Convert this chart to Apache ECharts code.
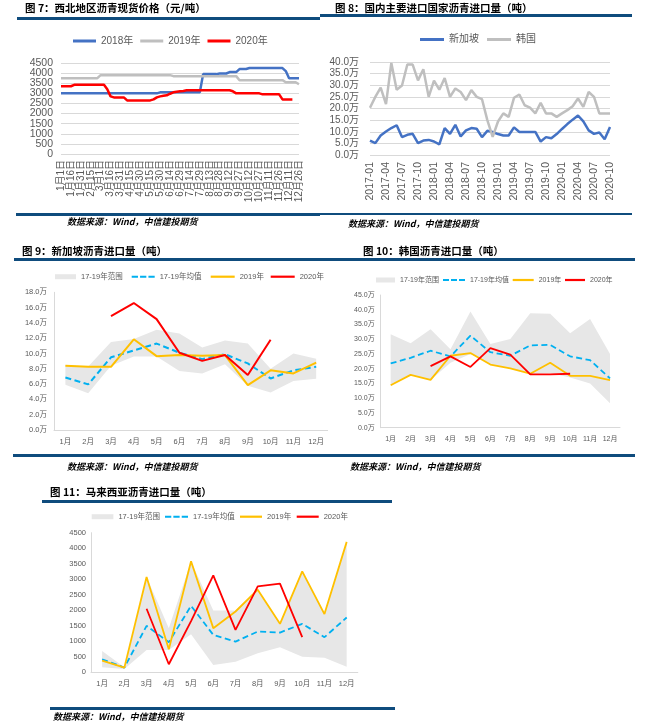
<!DOCTYPE html>
<html><head><meta charset="utf-8">
<script src="https://cdn.jsdelivr.net/npm/echarts@6/dist/echarts.min.js"></script>
<style>
html,body{margin:0;padding:0;background:#fff;}
#wrap{position:relative;width:651px;height:727px;overflow:hidden;font-family:"Noto Sans CJK SC",sans-serif;background:#fff;}
.c{position:absolute;left:0;top:0;width:651px;height:727px;}
.t{position:absolute;font-weight:bold;font-size:10.5px;color:#000;white-space:nowrap;line-height:12px;z-index:5;}
.l{position:absolute;background:#0F4C7D;z-index:5;}
.s{position:absolute;font-weight:bold;font-style:italic;font-size:9px;color:#000;white-space:nowrap;line-height:11px;z-index:5;}
</style></head>
<body>
<div id="wrap">
  <div class="c" id="c7"></div>
  <div class="c" id="c8"></div>
  <div class="c" id="c9"></div>
  <div class="c" id="c10"></div>
  <div class="c" id="c11"></div>

  <div class="t" style="left:25px;top:2px;">图 7：西北地区沥青现货价格（元/吨）</div>
  <div class="l" style="left:17px;top:17px;width:303px;height:3px;"></div>
  <div class="l" style="left:16px;top:213px;width:304px;height:2.5px;"></div>
  <div class="s" style="left:67px;top:216px;">数据来源：Wind，中信建投期货</div>

  <div class="t" style="left:335px;top:1.5px;">图 8：国内主要进口国家沥青进口量（吨）</div>
  <div class="l" style="left:320px;top:14px;width:312px;height:3px;"></div>
  <div class="l" style="left:320px;top:212.5px;width:312px;height:2.5px;"></div>
  <div class="s" style="left:348px;top:217.5px;">数据来源：Wind，中信建投期货</div>

  <div class="t" style="left:22px;top:245px;">图 9：新加坡沥青进口量（吨）</div>
  <div class="l" style="left:14px;top:258px;width:316px;height:3px;"></div>
  <div class="l" style="left:13px;top:454px;width:317px;height:3px;"></div>
  <div class="s" style="left:67px;top:460.5px;">数据来源：Wind，中信建投期货</div>

  <div class="t" style="left:363px;top:245px;">图 10：韩国沥青进口量（吨）</div>
  <div class="l" style="left:330px;top:258px;width:305px;height:3px;"></div>
  <div class="l" style="left:330px;top:454px;width:305px;height:3px;"></div>
  <div class="s" style="left:350px;top:460.5px;">数据来源：Wind，中信建投期货</div>

  <div class="t" style="left:50px;top:485.5px;">图 11：马来西亚沥青进口量（吨）</div>
  <div class="l" style="left:42px;top:500px;width:350px;height:2.5px;"></div>
  <div class="l" style="left:50px;top:706.5px;width:345px;height:3px;"></div>
  <div class="s" style="left:53px;top:710.5px;">数据来源：Wind，中信建投期货</div>
</div>
<script>
// ---------- Chart 7 data (every 5 days) ----------
const dates7 = ['1月1日','1月6日','1月11日','1月16日','1月21日','1月26日','1月31日','2月5日','2月10日','2月15日','2月20日','2月25日',
'3月1日','3月6日','3月11日','3月16日','3月21日','3月26日','3月31日','4月5日','4月10日','4月15日','4月20日','4月25日','4月30日',
'5月5日','5月10日','5月15日','5月20日','5月25日','5月30日','6月4日','6月9日','6月14日','6月19日','6月24日','6月29日',
'7月4日','7月9日','7月14日','7月19日','7月24日','7月29日','8月3日','8月8日','8月13日','8月18日','8月23日','8月28日',
'9月2日','9月7日','9月12日','9月17日','9月22日','9月27日','10月2日','10月7日','10月12日','10月17日','10月22日','10月27日',
'11月1日','11月6日','11月11日','11月16日','11月21日','11月26日','12月1日','12月6日','12月11日','12月16日','12月21日','12月26日'];
const price2018 = [3000,3000,3000,3000,3000,3000,3000,3000,3000,3000,3000,3000,3000,3000,3000,3000,3000,3000,3000,3000,3000,3000,3000,3000,3000,3000,3000,3000,3000,3000,
3050,3050,3050,3050,3050,3050,3050,3050,3050,3050,3050,3050,3050,
3950,3950,3950,3950,3950,3980,3980,3980,4050,4050,4050,4200,4200,4200,
4250,4250,4250,4250,4250,4250,4250,4250,4250,4250,4250,4100,3750,3750,3750,3750];
const price2019 = [3750,3750,3750,3750,3750,3750,3750,3750,3750,3750,3750,3750,
3900,3900,3900,3900,3900,3900,3900,3900,3900,3900,3900,3900,3900,3900,3900,3900,3900,3900,3900,3900,3900,3900,
3850,3850,3850,3850,3850,3850,3850,3850,3850,3850,3850,3850,3850,3850,3850,3850,3850,3850,3850,3850,
3650,3650,3650,3650,3650,3650,3650,3650,3650,3650,3650,3650,3650,3650,3550,3550,3550,3550,3450];
const price2020 = [3350,3350,3350,3350,3420,3420,3420,3420,3420,3420,3420,3420,3420,3420,3200,2850,2800,2800,2800,2800,
2650,2650,2650,2650,2650,2650,2650,2650,2700,2800,2850,2880,2900,2980,3050,3080,3100,3120,
3150,3150,3150,3150,3150,3150,3150,3150,3150,3150,3150,3150,3150,3150,3100,
3000,3000,3000,3000,3000,3000,3000,3000,2950,2950,2950,2950,2950,2950,2700,2700,2700,2700,null,null];
const yTicks7 = [0,500,1000,1500,2000,2500,3000,3500,4000,4500];

// ---------- Chart 8 data (万吨) ----------
const months8 = ['2017-01','2017-02','2017-03','2017-04','2017-05','2017-06','2017-07','2017-08','2017-09','2017-10','2017-11','2017-12',
'2018-01','2018-02','2018-03','2018-04','2018-05','2018-06','2018-07','2018-08','2018-09','2018-10','2018-11','2018-12',
'2019-01','2019-02','2019-03','2019-04','2019-05','2019-06','2019-07','2019-08','2019-09','2019-10','2019-11','2019-12',
'2020-01','2020-02','2020-03','2020-04','2020-05','2020-06','2020-07','2020-08','2020-09','2020-10'];
const singapore8 = [6.2,5.1,8.4,10.1,11.6,12.8,7.7,8.7,9.1,5.1,6.2,6.5,5.8,4.6,11.6,9.1,13,8,10.6,11.6,11.3,7.7,10.4,9.9,
9,8.4,8.4,11.9,9.9,9.9,9.9,9.9,5.8,7.7,7.2,9,11.2,13.3,15.2,17,14.5,10.6,9.1,9.7,6.8,12];
const korea8 = [20.3,25,29,21.9,39.6,28.1,29.9,38.9,38.9,32.1,36.9,25,32,28.1,33.1,25,28.6,27.1,23.6,27.9,25,24,15,7.8,
14.4,17.9,16.4,24.6,26,21.4,20.4,17.9,22.4,17.9,17.9,16.4,17.9,19.3,21,24.3,20.7,27.1,25,17.9,17.9,17.9];

// ---------- Monthly charts ----------
const months = ['1月','2月','3月','4月','5月','6月','7月','8月','9月','10月','11月','12月'];
// Chart 9 Singapore (万吨)
const upper9 = [8.5,8.3,11.5,11.9,13.1,12.6,10.8,11.7,11.3,8.0,10.0,9.3];
const lower9 = [5.9,4.8,8.4,9.6,9.6,7.7,7.4,8.6,5.8,4.9,6.4,6.7];
const mean9  = [6.87,5.96,9.5,10.4,11.3,10.1,9.26,9.9,8.7,6.74,7.8,8.26];
const y2019_9 = [8.4,8.26,8.26,11.86,9.65,9.8,9.7,9.8,5.87,7.8,7.4,8.8];
const y2020_9 = [null,null,14.9,16.6,14.5,10.1,9.04,9.8,7.2,11.8,null,null];
// Chart 10 Korea (万吨)
const upper10 = [31.7,28.6,33.4,26.6,39.4,28.4,30.1,38.8,38.6,32,36.9,25];
const lower10 = [14.4,17.9,16.2,22,25,21.4,20.1,18.3,18.5,17,15,8.3];
const mean10  = [21.8,23.7,26.1,24.2,31.2,25.6,24.4,27.9,28.1,24.2,22.9,16.7];
const y2019_10 = [14.4,17.9,16.2,24.4,25.3,21.4,20.1,18.3,22,17.6,17.6,16.1];
const y2020_10 = [null,null,20.9,24.2,20.6,27,24.8,18.1,18.1,18.3,null,null];
// Chart 11 Malaysia (吨)
const upper11 = [690,160,3072,1423,3577,1993,1993,2662,1562,3254,1876,4204];
const lower11 = [162,108,722,722,1229,236,343,614,808,505,473,181];
const mean11  = [420,151,1498,970,2144,1206,990,1313,1281,1562,1132,1766];
const y2019_11 = [377,151,3072,744,3577,1423,1960,2662,1562,3254,1876,4204];
const y2020_11 = [null,null,2048,259,1650,3125,1368,2769,2856,1132,null,null];

const FONT = '"Liberation Sans","Noto Sans CJK SC",sans-serif';
const LBL = '#595959';
const GRID = '#D9D9D9';
const DASH_ICON = 'path://M0,0H6V2H0Z M8,0H14V2H8Z M16,0H22V2H16Z';

function lineS(name, data, color, width, extra) {
  return Object.assign({
    name, type:'line', data, symbol:'none', showSymbol:false, smooth:false,
    lineStyle:{color, width}, itemStyle:{color}, connectNulls:false, animation:false
  }, extra || {});
}
const axisLblBase = {color:LBL, fontFamily:FONT, showMinLabel:true, showMaxLabel:true, hideOverlap:false};

// ---------- Chart 7 ----------
const ch7 = echarts.init(document.getElementById('c7'));
ch7.setOption({
  animation:false,
  textStyle:{fontFamily:FONT},
  legend:{left:73, top:35, padding:0, itemWidth:23, itemHeight:3, itemGap:7, icon:'rect',
    textStyle:{color:LBL, fontSize:10, fontFamily:FONT, lineHeight:12},
    data:['2018年','2019年','2020年']},
  grid:{left:61, right:352, top:63, bottom:573},
  xAxis:{type:'category', data:dates7, boundaryGap:false,
    axisLine:{show:false}, axisTick:{show:false},
    axisLabel:Object.assign({}, axisLblBase, {interval:2, rotate:90, fontSize:10, margin:6})},
  yAxis:{type:'value', min:0, max:4500, interval:500,
    axisLine:{show:false}, axisTick:{show:false},
    splitLine:{lineStyle:{color:GRID, width:1}},
    axisLabel:{show:false}},
  series:[
    lineS('2018年', price2018, '#4472C4', 2.5),
    lineS('2019年', price2019, '#BFBFBF', 2.5),
    lineS('2020年', price2020, '#FF0000', 2.5)
  ]
});
// y tick labels of chart 7 placed through the axis scale (labels are too dense for auto layout)
ch7.setOption({
  graphic: yTicks7.map(v => {
    const p = ch7.convertToPixel({yAxisIndex:0}, v);
    return {type:'text', x:53, y:p, silent:true,
      style:{text:String(v), fill:LBL, font:'10.5px ' + FONT, align:'right', verticalAlign:'middle'}};
  })
});

// ---------- Chart 8 ----------
echarts.init(document.getElementById('c8')).setOption({
  animation:false,
  textStyle:{fontFamily:FONT},
  legend:{left:420, top:33.5, padding:0, itemWidth:24, itemHeight:3, itemGap:8, icon:'rect',
    textStyle:{color:LBL, fontSize:10, fontFamily:FONT, lineHeight:12},
    data:['新加坡','韩国']},
  grid:{left:370, right:41, top:62, bottom:572},
  xAxis:{type:'category', data:months8, boundaryGap:false,
    axisLine:{show:false}, axisTick:{show:false},
    axisLabel:Object.assign({}, axisLblBase, {interval:2, rotate:90, fontSize:10.5, margin:7})},
  yAxis:{type:'value', min:0, max:40, interval:5,
    axisLine:{show:false}, axisTick:{show:false},
    splitLine:{lineStyle:{color:GRID, width:1}},
    axisLabel:Object.assign({}, axisLblBase, {fontSize:10, margin:11, lineHeight:11,
      formatter:v => v.toFixed(1) + '万'})},
  series:[
    lineS('新加坡', singapore8, '#4472C4', 2.5),
    lineS('韩国', korea8, '#BFBFBF', 2.5)
  ]
});

// ---------- Range charts ----------
function rangeChart(id, cfg) {
  const diff = cfg.upper.map((u, i) => +(u - cfg.lower[i]).toFixed(3));
  const ts = {color:LBL, fontSize:cfg.font, fontFamily:FONT, lineHeight:10};
  const L = cfg.leg; // [[left, iconWidth], ...]
  const top = cfg.legendCenter - 5;
  echarts.init(document.getElementById(id)).setOption({
    animation:false,
    textStyle:{fontFamily:FONT},
    legend:[
      {left:L[0][0], top, padding:0, itemWidth:L[0][1], itemHeight:5, icon:'rect', textStyle:ts, data:['17-19年范围']},
      {left:L[1][0], top, padding:0, itemWidth:L[1][1], itemHeight:2, icon:DASH_ICON, symbolKeepAspect:false, textStyle:ts, data:['17-19年均值']},
      {left:L[2][0], top, padding:0, itemWidth:L[2][1], itemHeight:2.2, icon:'rect', textStyle:ts, data:['2019年']},
      {left:L[3][0], top, padding:0, itemWidth:L[3][1], itemHeight:2.2, icon:'rect', textStyle:ts, data:['2020年']}
    ],
    grid:cfg.grid,
    xAxis:{type:'category', data:months, boundaryGap:true,
      axisLine:{show:true, lineStyle:{color:GRID, width:1}}, axisTick:{show:false},
      axisLabel:Object.assign({}, axisLblBase, {fontSize:cfg.font, margin:cfg.xMargin})},
    yAxis:{type:'value', min:0, max:cfg.max, interval:cfg.interval,
      axisLine:{show:true, lineStyle:{color:GRID, width:1}}, axisTick:{show:false},
      splitLine:{show:false},
      axisLabel:Object.assign({}, axisLblBase, {fontSize:cfg.font, margin:cfg.yMargin, formatter:cfg.fmt})},
    series:[
      {name:'rangeBase', type:'line', data:cfg.lower, stack:'rng', symbol:'none',
        lineStyle:{width:0, opacity:0}, itemStyle:{color:'#E7E7E7'}, silent:true},
      {name:'17-19年范围', type:'line', data:diff, stack:'rng', symbol:'none',
        lineStyle:{width:0, opacity:0}, itemStyle:{color:'#E7E7E7'},
        areaStyle:{color:'#E7E7E7', opacity:1}, silent:true},
      lineS('17-19年均值', cfg.mean, '#00B0F0', cfg.lw, {lineStyle:{color:'#00B0F0', width:cfg.lw, type:[6,3.5]}}),
      lineS('2019年', cfg.y2019, '#FFC000', cfg.lw),
      lineS('2020年', cfg.y2020, '#FF0000', cfg.lw)
    ]
  });
}

rangeChart('c9', {upper:upper9, lower:lower9, mean:mean9, y2019:y2019_9, y2020:y2020_9,
  grid:{left:54, right:323.4, top:292.3, bottom:297},
  max:18, interval:2, fmt:v => v.toFixed(1) + '万', font:7.5, lw:2,
  leg:[[55,21],[131.7,23],[210.7,24],[270.7,24]], legendCenter:276.7, xMargin:8, yMargin:7});

rangeChart('c10', {upper:upper10, lower:lower10, mean:mean10, y2019:y2019_10, y2020:y2020_10,
  grid:{left:380.7, right:31, top:295, bottom:299.3},
  max:45, interval:5, fmt:v => v.toFixed(1) + '万', font:7, lw:1.8,
  leg:[[376,19],[443,22],[512.7,21],[565,20]], legendCenter:280, xMargin:8, yMargin:6});

rangeChart('c11', {upper:upper11, lower:lower11, mean:mean11, y2019:y2019_11, y2020:y2020_11,
  grid:{left:91, right:293.2, top:532.7, bottom:54.7},
  max:4500, interval:500, fmt:v => String(v), font:7.5, lw:1.8,
  leg:[[91.7,21.7],[165,23],[240,22],[296.7,22]], legendCenter:516.7, xMargin:8, yMargin:5});
</script>
</body></html>
